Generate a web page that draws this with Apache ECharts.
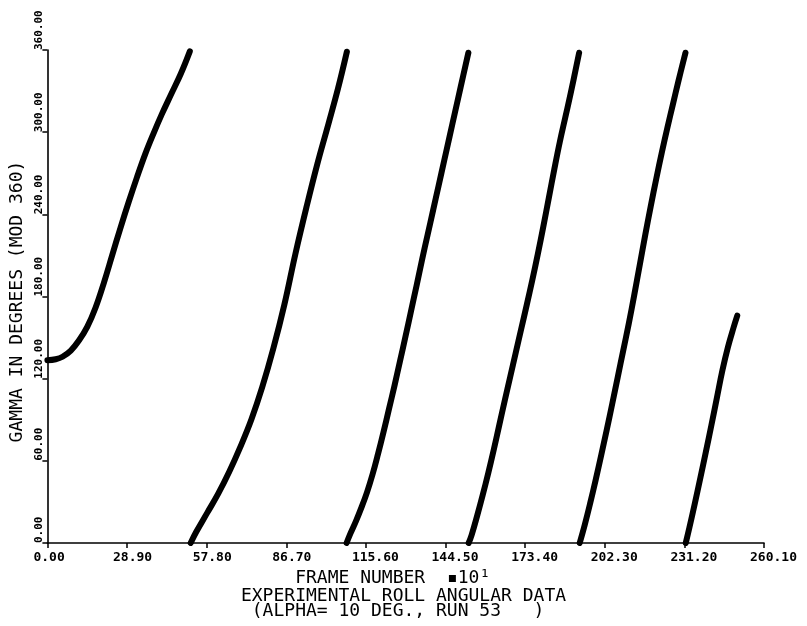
<!DOCTYPE html>
<html>
<head>
<meta charset="utf-8">
<title>Experimental Roll Angular Data</title>
<script src="https://cdn.jsdelivr.net/npm/echarts@6/dist/echarts.min.js"></script>
<style>
  html, body { margin: 0; padding: 0; background: #fff; }
  #chart { width: 807px; height: 626px; }
</style>
</head>
<body>
<div id="chart"></div>
<script>
// Roll angle gamma (mod 360) against frame number (x10), one array per sweep 0..360
const sweep1 = [[0, 133.5], [3, 134.2], [5.5, 136], [8.5, 140.5], [11.5, 148], [14.5, 158], [17.5, 172],
  [20.5, 190], [23.5, 210], [26.5, 230], [29.5, 249], [32.5, 267], [35.5, 284], [38.5, 299],
  [41.5, 313], [45, 328], [48.5, 343], [51.7, 359]];
const sweep2 = [[52, 0], [54, 8], [58, 22], [62, 36], [66, 52], [70, 70], [74, 90], [78, 114],
  [82, 142], [86, 174], [90, 211], [94, 245], [98, 277], [102, 306], [105.5, 332], [108.7, 358.7]];
const sweep3 = [[108.6, 0], [110, 7], [112, 16], [114, 26], [116, 37], [118, 50], [120, 65], [122, 81],
  [124, 98], [126, 115], [128, 133], [130, 151], [132, 169.5], [134, 188], [136, 207], [138, 225],
  [140, 243], [142, 261], [144, 279], [146, 297], [148, 315], [150, 333], [152.8, 358]];
const sweep4 = [[152.9, 0], [154, 6], [156, 20], [158, 35], [160, 51], [162, 68], [164, 86], [166, 104],
  [168, 121.5], [170, 139], [172, 156.5], [174, 174], [176, 192], [178, 211], [180, 231], [182, 252],
  [184, 273], [186, 293], [188, 311], [190, 329], [193, 358]];
const sweep5 = [[193.2, 0], [195, 13], [197, 29], [199, 46], [201, 64], [203, 82.5], [205, 101.5],
  [207, 121], [209, 140.5], [211, 160], [213, 181], [215, 203], [217, 225], [219, 246], [221, 266],
  [223, 285], [225, 303], [227, 320], [229, 337], [231.6, 358]];
const sweep6 = [[231.7, 0], [233, 11], [235, 29], [237, 47.5], [239, 66.5], [241, 86], [243, 106],
  [245, 126], [247, 143], [249, 157], [250.4, 166]];

const xTicks = [0, 28.9, 57.8, 86.7, 115.6, 144.5, 173.4, 202.3, 231.2, 260.1];
const yTicks = [0, 60, 120, 180, 240, 300, 360];

const xName = 'FRAME NUMBER  \u25AA10\u00B9';
const yName = 'GAMMA IN DEGREES (MOD 360)';
const caption = 'EXPERIMENTAL ROLL ANGULAR DATA\n(ALPHA= 10 DEG., RUN 53   ) ';

const mono = '"DejaVu Sans Mono", "Liberation Mono", monospace';
const ink = '#000';

const chart = echarts.init(document.getElementById('chart'), null, { renderer: 'canvas' });

const sweeps = [sweep1, sweep2, sweep3, sweep4, sweep5, sweep6];

chart.setOption({
  backgroundColor: '#fff',
  animation: false,
  graphic: [{
    type: 'text',
    left: 'center',
    top: 587,
    silent: true,
    style: {
      text: caption,
      fill: ink,
      font: '18px ' + mono,
      textAlign: 'center',
      lineHeight: 15
    }
  }],
  grid: { left: 44, right: 43, top: 50, bottom: 83, containLabel: false },
  xAxis: {
    type: 'value',
    min: 0,
    max: 260.1,
    name: xName,
    nameLocation: 'middle',
    nameGap: 17,
    nameTextStyle: { fontFamily: mono, fontSize: 18, color: ink, padding: [0, 26, 0, 0] },
    splitLine: { show: false },
    axisLine: { show: true, onZero: false, lineStyle: { color: ink, width: 1.6 } },
    axisTick: { show: true, customValues: xTicks, length: 5, lineStyle: { color: ink, width: 1.5 } },
    axisLabel: {
      customValues: xTicks,
      formatter: v => v.toFixed(2),
      fontFamily: mono, fontSize: 13, fontWeight: 'bold', color: ink,
      margin: 8, align: 'left', padding: [0, 0, 0, -14]
    }
  },
  yAxis: {
    type: 'value',
    min: 0,
    max: 360,
    interval: 60,
    name: yName,
    nameLocation: 'middle',
    nameRotate: 90,
    nameGap: 15,
    nameTextStyle: { fontFamily: mono, fontSize: 18, color: ink, padding: [0, 10, 0, 0] },
    splitLine: { show: false },
    axisLine: { show: true, onZero: false, lineStyle: { color: ink, width: 1.6 } },
    axisTick: { show: true, customValues: yTicks, length: 5, lineStyle: { color: ink, width: 1.5 } },
    axisLabel: {
      customValues: yTicks,
      formatter: v => Number(v).toFixed(2),
      fontFamily: mono, fontSize: 11, fontWeight: 'bold', color: ink,
      rotate: 90, align: 'left', verticalAlign: 'middle', margin: 8
    }
  },
  series: sweeps.map(d => ({
    type: 'line',
    data: d,
    showSymbol: false,
    symbol: 'none',
    smooth: 0.4,
    lineStyle: { color: ink, width: 6, cap: 'round', join: 'round' },
    silent: true
  }))
});
</script>
</body>
</html>
